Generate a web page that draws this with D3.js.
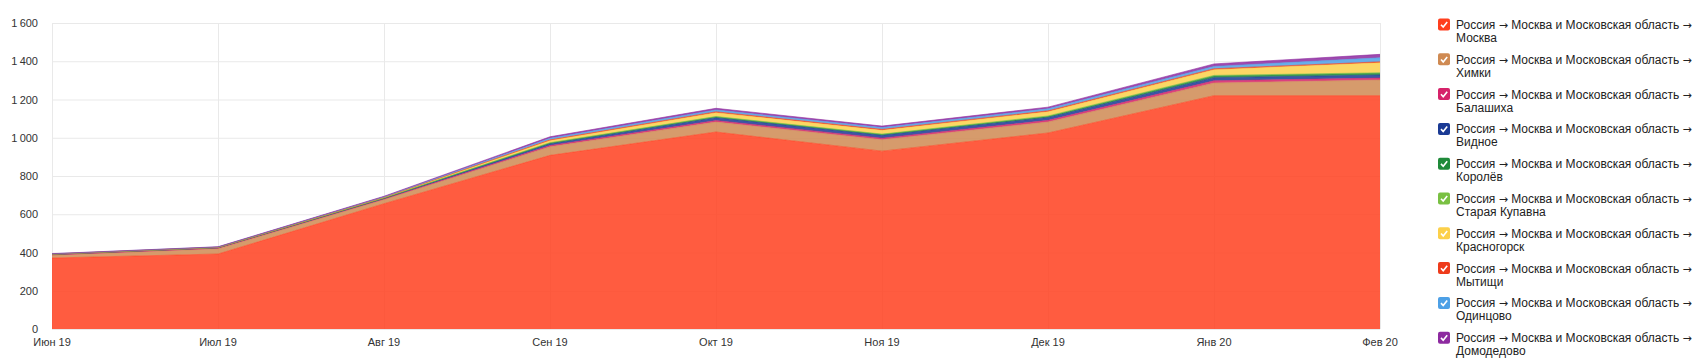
<!DOCTYPE html>
<html><head><meta charset="utf-8">
<script src="https://cdn.jsdelivr.net/npm/d3@7"></script>
<style>
body{margin:0;background:#fff;}
text{font-family:"Liberation Sans",Arial,sans-serif;}
</style></head>
<body><svg id="c" width="1703" height="364"></svg>
<script>
const months = ["Июн 19","Июл 19","Авг 19","Сен 19","Окт 19","Ноя 19","Дек 19","Янв 20","Фев 20"];
const cities = ["Москва","Химки","Балашиха","Видное","Королёв","Старая Купавна","Красногорск","Мытищи","Одинцово","Домодедово"];
const prefixParts = ["Россия ","→"," Москва и Московская область ","→"];
const moskva      = [371, 392, 655, 908, 1030, 930, 1025, 1220, 1220];
const khimki      = [15, 28, 22, 45, 52, 60, 57, 66, 82];
const balashikha  = [2, 3, 3, 6, 8, 8, 9, 12, 10];
const vidnoe      = [2, 2, 3, 10, 15, 15, 15, 16, 16];
const korolev     = [1, 1, 1, 3, 4, 4, 5, 9, 9];
const kupavna     = [0, 0, 1, 2, 2, 2, 3, 3, 3];
const krasnogorsk = [1, 1, 3, 12, 20, 20, 22, 30, 52];
const mytishchi   = [0, 1, 1, 3, 5, 5, 5, 5, 5];
const odintsovo   = [1, 1, 2, 8, 9, 9, 10, 12, 21];
const domodedovo  = [1, 1, 3, 8, 9, 8, 9, 13, 18];
const yTicks = [0,200,400,600,800,1000,1200,1400,1600];
const colors = ["#ff3f1e","#cf8a52","#d6226a","#1a3a94","#1f8a3a","#79c042","#fcd04a","#ee3b1b","#4da0e6","#8d2aa0"];

const seriesVals = [moskva,khimki,balashikha,vidnoe,korolev,kupavna,krasnogorsk,mytishchi,odintsovo,domodedovo];
const table = months.map((m,i)=>{const o={m}; cities.forEach((c,j)=>o[c]=seriesVals[j][i]); return o;});
const stack = d3.stack().keys(cities)(table);

const svg = d3.select("#c");
const L=52,R=1380,T=23,B=329;
const x = d3.scalePoint().domain(months).range([L,R]);
const y = d3.scaleLinear().domain([0,1600]).range([B,T]);

// grid
const g = svg.append("g");
g.selectAll(".hg").data(yTicks).join("line")
 .attr("x1",L).attr("x2",R).attr("y1",d=>y(d)+0.5).attr("y2",d=>y(d)+0.5)
 .attr("stroke","#e9e9e9");
g.selectAll(".vg").data(months).join("line")
 .attr("x1",d=>Math.round(x(d))+0.5).attr("x2",d=>Math.round(x(d))+0.5).attr("y1",T).attr("y2",B)
 .attr("stroke","#e9e9e9");

// areas
const area = d3.area().x(d=>x(d.data.m)).y0(d=>y(d[0])).y1(d=>y(d[1]));
const line = d3.line().x(d=>x(d.data.m)).y(d=>y(d[1]));
svg.append("g").selectAll("path").data(stack).join("path")
 .attr("d",area).attr("fill",(d,i)=>colors[i]).attr("fill-opacity",0.85);
svg.append("g").selectAll("path").data(stack).join("path")
 .attr("d",line).attr("fill","none").attr("stroke",(d,i)=>colors[i]).attr("stroke-opacity",0.6).attr("stroke-width",1);

// axes labels
svg.append("g").selectAll("text").data(yTicks).join("text")
 .attr("x",38).attr("y",d=>y(d)+4).attr("text-anchor","end")
 .attr("font-size",11).attr("fill","#333")
 .text(d=>d>=1000?d3.format(",")(d).replace(",","\u2009"):d);
svg.append("g").selectAll("text").data(months).join("text")
 .attr("x",d=>x(d)).attr("y",346).attr("text-anchor","middle")
 .attr("font-size",11).attr("fill","#333").text(d=>d);

// legend
const lg = svg.append("g").selectAll("g").data(cities).join("g")
 .attr("transform",(d,i)=>`translate(1438,${18.5+i*34.8})`);
lg.append("rect").attr("width",12).attr("height",12).attr("rx",2).attr("fill",(d,i)=>colors[i]);
lg.append("path").attr("d","M3,6.2 L5.2,8.6 L9.2,3.6").attr("fill","none").attr("stroke","#fff").attr("stroke-width",1.6);
const t1 = lg.append("text").attr("x",18).attr("y",10.5).attr("font-size",12).attr("fill","#222");
prefixParts.forEach(p=>{
  const ts = t1.append("tspan").text(p);
  if(p==="→") ts.attr("font-family","'DejaVu Sans'").attr("font-size",11);
});
lg.append("text").attr("x",18).attr("y",23.5).attr("font-size",12).attr("fill","#222").text(d=>d);
</script></body></html>
